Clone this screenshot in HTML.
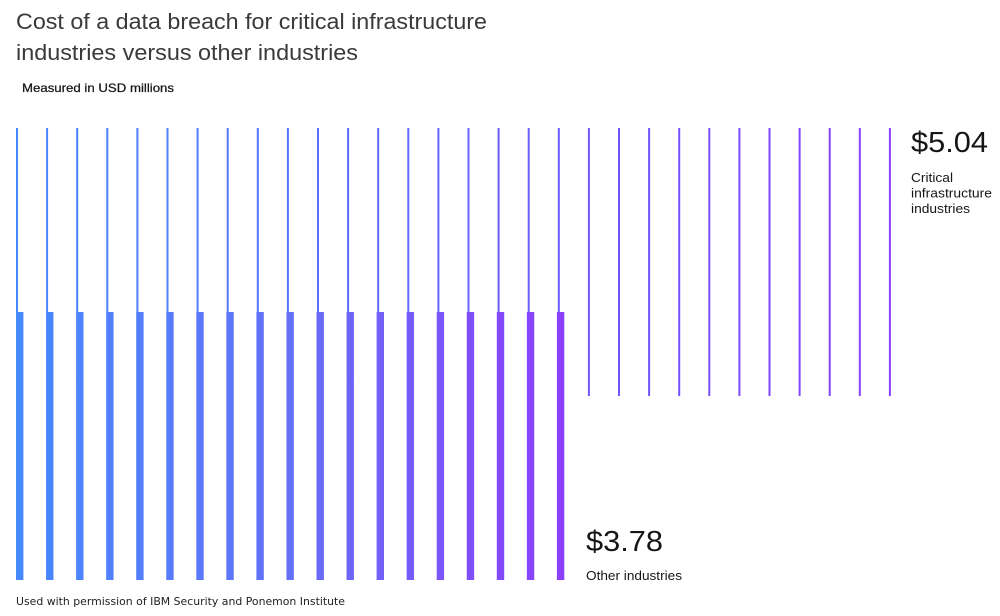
<!DOCTYPE html>
<html>
<head>
<meta charset="utf-8">
<style>
  html, body { margin: 0; padding: 0; background: #ffffff; }
  body { width: 1000px; height: 616px; overflow: hidden; }
  svg { display: block; }
</style>
</head>
<body>
<svg width="1000" height="616" viewBox="0 0 1000 616" xmlns="http://www.w3.org/2000/svg">
  <defs>
    <linearGradient id="gThin" gradientUnits="userSpaceOnUse" x1="17" y1="0" x2="890" y2="0">
      <stop offset="0" stop-color="#4589ff"/>
      <stop offset="0.6" stop-color="#6a5cff"/>
      <stop offset="1" stop-color="#8a3ffc"/>
    </linearGradient>
    <linearGradient id="gBar" gradientUnits="userSpaceOnUse" x1="17" y1="0" x2="562" y2="0">
      <stop offset="0" stop-color="#4589ff"/>
      <stop offset="0.5" stop-color="#6570f8"/>
      <stop offset="1" stop-color="#8a3ffc"/>
    </linearGradient>
  </defs>
  <rect width="1000" height="616" fill="#ffffff"/>

  <!-- Title -->
  <g font-family="'Liberation Sans', 'DejaVu Sans', sans-serif" fill="#3a3a3a">
    <text x="16" y="29" font-size="22.5" textLength="471" lengthAdjust="spacingAndGlyphs">Cost of a data breach for critical infrastructure</text>
    <text x="16" y="60" font-size="22.5" textLength="342" lengthAdjust="spacingAndGlyphs">industries versus other industries</text>
    <text x="22" y="92" font-size="12" fill="#161616" stroke="#161616" stroke-width="0.25" textLength="152" lengthAdjust="spacingAndGlyphs">Measured in USD millions</text>
  </g>

  <!-- Thin lines -->
  <g fill="url(#gThin)">
    <rect x="16.0" y="128" width="2" height="184"/>
    <rect x="46.1" y="128" width="2" height="184"/>
    <rect x="76.2" y="128" width="2" height="184"/>
    <rect x="106.3" y="128" width="2" height="184"/>
    <rect x="136.4" y="128" width="2" height="184"/>
    <rect x="166.5" y="128" width="2" height="184"/>
    <rect x="196.6" y="128" width="2" height="184"/>
    <rect x="226.7" y="128" width="2" height="184"/>
    <rect x="256.8" y="128" width="2" height="184"/>
    <rect x="286.9" y="128" width="2" height="184"/>
    <rect x="317.0" y="128" width="2" height="184"/>
    <rect x="347.1" y="128" width="2" height="184"/>
    <rect x="377.2" y="128" width="2" height="184"/>
    <rect x="407.3" y="128" width="2" height="184"/>
    <rect x="437.4" y="128" width="2" height="184"/>
    <rect x="467.5" y="128" width="2" height="184"/>
    <rect x="497.6" y="128" width="2" height="184"/>
    <rect x="527.7" y="128" width="2" height="184"/>
    <rect x="557.8" y="128" width="2" height="184"/>
    <rect x="587.9" y="128" width="2" height="268"/>
    <rect x="618.0" y="128" width="2" height="268"/>
    <rect x="648.1" y="128" width="2" height="268"/>
    <rect x="678.2" y="128" width="2" height="268"/>
    <rect x="708.3" y="128" width="2" height="268"/>
    <rect x="738.4" y="128" width="2" height="268"/>
    <rect x="768.5" y="128" width="2" height="268"/>
    <rect x="798.6" y="128" width="2" height="268"/>
    <rect x="828.7" y="128" width="2" height="268"/>
    <rect x="858.8" y="128" width="2" height="268"/>
    <rect x="888.9" y="128" width="2" height="268"/>
  </g>

  <!-- Thick bars -->
  <g fill="url(#gBar)">
    <rect x="16.0" y="312" width="7.4" height="268"/>
    <rect x="46.05" y="312" width="7.4" height="268"/>
    <rect x="76.1" y="312" width="7.4" height="268"/>
    <rect x="106.15" y="312" width="7.4" height="268"/>
    <rect x="136.2" y="312" width="7.4" height="268"/>
    <rect x="166.25" y="312" width="7.4" height="268"/>
    <rect x="196.3" y="312" width="7.4" height="268"/>
    <rect x="226.35" y="312" width="7.4" height="268"/>
    <rect x="256.4" y="312" width="7.4" height="268"/>
    <rect x="286.45" y="312" width="7.4" height="268"/>
    <rect x="316.5" y="312" width="7.4" height="268"/>
    <rect x="346.55" y="312" width="7.4" height="268"/>
    <rect x="376.6" y="312" width="7.4" height="268"/>
    <rect x="406.65" y="312" width="7.4" height="268"/>
    <rect x="436.7" y="312" width="7.4" height="268"/>
    <rect x="466.75" y="312" width="7.4" height="268"/>
    <rect x="496.8" y="312" width="7.4" height="268"/>
    <rect x="526.85" y="312" width="7.4" height="268"/>
    <rect x="556.9" y="312" width="7.4" height="268"/>
  </g>

  <!-- Labels -->
  <g font-family="'Liberation Sans', 'DejaVu Sans', sans-serif" fill="#161616">
    <text x="911" y="152" font-size="29" textLength="77" lengthAdjust="spacingAndGlyphs">$5.04</text>
    <text x="911" y="182" font-size="12.5" textLength="42" lengthAdjust="spacingAndGlyphs">Critical</text>
    <text x="911" y="197.5" font-size="12.5" textLength="81" lengthAdjust="spacingAndGlyphs">infrastructure</text>
    <text x="911" y="213" font-size="12.5" textLength="59" lengthAdjust="spacingAndGlyphs">industries</text>

    <text x="586" y="551" font-size="29" textLength="77" lengthAdjust="spacingAndGlyphs">$3.78</text>
    <text x="586" y="580" font-size="12.5" textLength="96" lengthAdjust="spacingAndGlyphs">Other industries</text>
  </g>

  <!-- Footer -->
  <text x="16" y="605" font-family="'DejaVu Sans', 'Liberation Sans', sans-serif" font-size="11" fill="#222222" textLength="329" lengthAdjust="spacingAndGlyphs">Used with permission of IBM Security and Ponemon Institute</text>
</svg>
</body>
</html>
